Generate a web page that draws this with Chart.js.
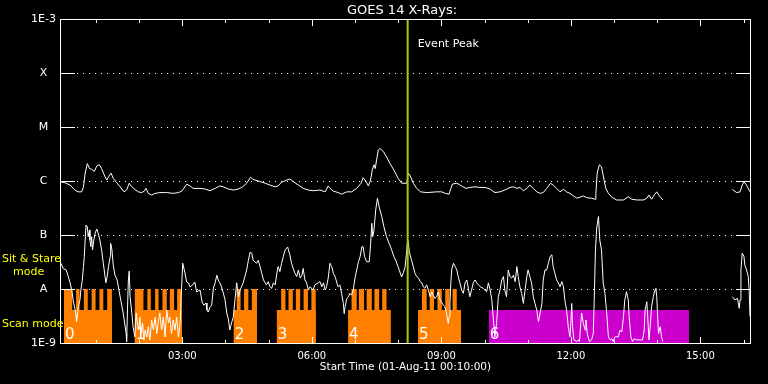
<!DOCTYPE html>
<html>
<head>
<meta charset="utf-8">
<script src="https://cdn.jsdelivr.net/npm/chart.js@4.4.1/dist/chart.umd.min.js"></script>
<style>
  html, body { margin: 0; padding: 0; background: #000; }
  canvas { display: block; }
</style>
</head>
<body>
<canvas id="chart" width="768" height="384"></canvas>
<script>
// GOES 14 X-ray flux (W/m^2), time in hours of 01-Aug-11
const longChannel = [
  [0.19, 9.6e-7], [0.28, 9.3e-7], [0.40, 8.4e-7], [0.51, 6.8e-7], [0.59, 6.3e-7], [0.67, 6.3e-7],
  [0.71, 7.8e-7], [0.75, 1.4e-6], [0.80, 2.1e-6], [0.85, 1.7e-6], [0.90, 1.65e-6], [0.96, 1.5e-6],
  [1.02, 1.9e-6], [1.08, 2.0e-6], [1.13, 1.7e-6], [1.19, 1.3e-6], [1.25, 1.04e-6], [1.29, 1.2e-6],
  [1.35, 1.4e-6], [1.40, 1.12e-6], [1.48, 9.3e-7], [1.56, 7.8e-7], [1.65, 6.3e-7], [1.71, 6.8e-7],
  [1.77, 9.1e-7], [1.83, 7.8e-7], [1.90, 7.0e-7], [1.98, 6.3e-7], [2.06, 6.1e-7], [2.12, 6.5e-7],
  [2.16, 7.3e-7], [2.21, 5.9e-7], [2.29, 5.5e-7], [2.37, 5.9e-7], [2.48, 6.1e-7], [2.64, 6.1e-7],
  [2.79, 5.9e-7], [2.91, 6.1e-7], [2.99, 6.5e-7], [3.06, 7.8e-7], [3.10, 8.7e-7], [3.18, 8.1e-7],
  [3.25, 7.3e-7], [3.41, 7.3e-7], [3.53, 7.1e-7], [3.64, 6.6e-7], [3.76, 7.3e-7], [3.87, 8.1e-7],
  [3.95, 7.8e-7], [4.07, 7.1e-7], [4.18, 6.8e-7], [4.27, 7.0e-7], [4.38, 7.6e-7], [4.49, 9.1e-7],
  [4.58, 1.17e-6], [4.64, 1.07e-6], [4.76, 1.0e-6], [4.92, 9.1e-7], [5.03, 8.4e-7], [5.15, 7.8e-7],
  [5.22, 8.1e-7], [5.30, 9.5e-7], [5.42, 1.04e-6], [5.49, 1.09e-6], [5.57, 9.7e-7], [5.69, 8.4e-7],
  [5.80, 7.3e-7], [5.92, 6.8e-7], [6.03, 6.6e-7], [6.19, 6.8e-7], [6.31, 6.3e-7], [6.38, 8.1e-7],
  [6.42, 7.3e-7], [6.50, 6.5e-7], [6.61, 6.1e-7], [6.69, 5.7e-7], [6.81, 6.3e-7], [6.92, 6.3e-7],
  [7.04, 7.3e-7], [7.14, 9.1e-7], [7.19, 1.15e-6], [7.26, 9.7e-7], [7.31, 8.1e-7], [7.36, 1.04e-6],
  [7.40, 1.6e-6], [7.44, 2.0e-6], [7.47, 1.7e-6], [7.50, 2.45e-6], [7.54, 3.75e-6], [7.58, 4.0e-6],
  [7.66, 3.5e-6], [7.73, 2.8e-6], [7.81, 2.1e-6], [7.90, 1.6e-6], [8.00, 1.12e-6], [8.08, 9.1e-7],
  [8.20, 9.1e-7], [8.23, 1.4e-6], [8.27, 1.29e-6], [8.35, 9.1e-7], [8.43, 7.3e-7], [8.52, 6.3e-7],
  [8.66, 6.1e-7], [8.89, 6.3e-7], [9.01, 6.3e-7], [9.09, 5.9e-7], [9.18, 5.7e-7], [9.22, 7.3e-7],
  [9.26, 8.8e-7], [9.36, 9.1e-7], [9.47, 8.1e-7], [9.57, 7.3e-7], [9.66, 7.6e-7], [9.78, 7.8e-7],
  [9.89, 7.6e-7], [10.01, 7.6e-7], [10.13, 7.1e-7], [10.24, 6.1e-7], [10.36, 6.3e-7], [10.47, 6.8e-7],
  [10.59, 7.6e-7], [10.67, 7.8e-7], [10.75, 7.3e-7], [10.82, 7.6e-7], [10.90, 6.6e-7], [10.98, 7.3e-7],
  [11.05, 8.4e-7], [11.13, 7.3e-7], [11.21, 6.3e-7], [11.29, 5.9e-7], [11.36, 6.1e-7], [11.44, 7.3e-7],
  [11.53, 9.1e-7], [11.59, 8.4e-7], [11.67, 7.3e-7], [11.75, 6.3e-7], [11.83, 7.0e-7], [11.90, 6.3e-7],
  [11.98, 5.9e-7], [12.06, 5.3e-7], [12.14, 4.8e-7], [12.21, 5.0e-7], [12.29, 5.3e-7], [12.37, 4.9e-7],
  [12.48, 4.8e-7], [12.56, 4.6e-7], [12.58, 5.9e-7], [12.61, 1.4e-6], [12.66, 2.0e-6], [12.71, 1.84e-6],
  [12.77, 1.04e-6], [12.81, 7.3e-7], [12.87, 5.9e-7], [12.95, 5.0e-7], [13.06, 4.45e-7], [13.22, 4.45e-7],
  [13.33, 5.1e-7], [13.41, 4.6e-7], [13.53, 4.45e-7], [13.68, 4.45e-7], [13.76, 4.8e-7], [13.81, 5.5e-7],
  [13.87, 4.6e-7], [13.93, 5.5e-7], [13.99, 6.3e-7], [14.05, 5.3e-7], [14.13, 4.45e-7], [15.00, null],
  [15.74, 7.0e-7], [15.84, 6.1e-7], [15.92, 6.3e-7], [15.97, 8.4e-7], [16.01, 9.7e-7], [16.07, 8.4e-7],
  [16.15, 6.3e-7]
];

const shortChannel = [
  [0.19, 3.0e-8], [0.24, 2.4e-8], [0.31, 2.25e-8], [0.36, 1.7e-8], [0.40, 1.3e-8], [0.44, 9.6e-9],
  [0.47, 6.3e-9], [0.51, 4.4e-9], [0.54, 3.1e-9], [0.55, 2.5e-9], [0.57, 3.3e-9], [0.59, 4.7e-9],
  [0.63, 6.3e-9], [0.65, 9.6e-9], [0.68, 1.37e-8], [0.71, 2.6e-8], [0.73, 4.0e-8], [0.75, 8.1e-8],
  [0.77, 1.53e-7], [0.80, 1.42e-7], [0.82, 9.3e-8], [0.85, 1.24e-7], [0.86, 8.1e-8], [0.88, 6.1e-8],
  [0.90, 9.3e-8], [0.92, 5.3e-8], [0.95, 8.1e-8], [0.98, 1.08e-7], [1.02, 1.29e-7], [1.05, 1.08e-7],
  [1.09, 8.1e-8], [1.13, 5.3e-8], [1.17, 3.0e-8], [1.23, 1.3e-8], [1.26, 1.7e-8], [1.29, 2.6e-8],
  [1.33, 4.0e-8], [1.34, 7.0e-8], [1.37, 5.3e-8], [1.40, 2.8e-8], [1.44, 1.8e-8], [1.49, 1.47e-8],
  [1.56, 7.2e-9], [1.63, 3.6e-9], [1.70, 1.5e-9], [1.71, 1.06e-9], [1.73, 4.1e-9], [1.75, 1.47e-8],
  [1.77, 2.15e-8], [1.79, 7.2e-9], [1.83, 3.6e-9], [1.86, 2.0e-9], [1.90, 1.3e-9], [1.93, 3.6e-9],
  [1.96, 2.35e-9], [1.99, 1.74e-9], [2.02, 3.0e-9], [2.05, 1.5e-9], [2.08, 2.35e-9], [2.11, 1.14e-9],
  [2.14, 1.74e-9], [2.18, 1.29e-9], [2.21, 2.0e-9], [2.25, 1.14e-9], [2.29, 2.67e-9], [2.33, 1.74e-9],
  [2.37, 3.0e-9], [2.41, 1.5e-9], [2.44, 2.35e-9], [2.48, 3.6e-9], [2.52, 1.74e-9], [2.56, 3.0e-9],
  [2.60, 1.29e-9], [2.64, 4.1e-9], [2.68, 2.35e-9], [2.71, 3.0e-9], [2.75, 1.5e-9], [2.79, 2.67e-9],
  [2.83, 1.74e-9], [2.87, 3.0e-9], [2.91, 1.29e-9], [2.95, 2.35e-9], [2.97, 6.3e-9], [3.01, 3.0e-8],
  [3.06, 2.0e-8], [3.10, 1.35e-8], [3.14, 1.3e-8], [3.18, 1.09e-8], [3.24, 1.19e-8], [3.29, 1.35e-8],
  [3.33, 8.8e-9], [3.41, 9.6e-9], [3.46, 5.7e-9], [3.50, 5.0e-9], [3.55, 5.5e-9], [3.57, 4.1e-9],
  [3.60, 3.75e-9], [3.64, 4.6e-9], [3.68, 5.0e-9], [3.72, 1.04e-8], [3.76, 1.3e-8], [3.80, 1.8e-8],
  [3.83, 1.47e-8], [3.87, 1.3e-8], [3.91, 1.09e-8], [3.95, 8.4e-9], [3.99, 6.3e-9], [4.03, 3.6e-9],
  [4.07, 2.67e-9], [4.10, 1.74e-9], [4.14, 2.35e-9], [4.18, 3.0e-9], [4.22, 6.3e-9], [4.26, 1.3e-8],
  [4.30, 7.1e-9], [4.34, 9.6e-9], [4.41, 1.3e-8], [4.49, 2.25e-8], [4.53, 3.4e-8], [4.57, 4.8e-8],
  [4.61, 4.6e-8], [4.64, 3.4e-8], [4.72, 3.0e-8], [4.76, 3.4e-8], [4.80, 2.6e-8], [4.84, 1.95e-8],
  [4.88, 1.47e-8], [4.92, 1.3e-8], [4.95, 1.19e-8], [4.99, 1.37e-8], [5.03, 1.1e-8], [5.07, 1.03e-8],
  [5.11, 1.3e-8], [5.15, 1.19e-8], [5.19, 1.95e-8], [5.22, 2.6e-8], [5.26, 2.1e-8], [5.30, 3.0e-8],
  [5.34, 4.0e-8], [5.38, 5.3e-8], [5.44, 6.0e-8], [5.49, 4.3e-8], [5.53, 3.0e-8], [5.57, 2.4e-8],
  [5.61, 1.95e-8], [5.65, 1.7e-8], [5.69, 2.25e-8], [5.73, 1.6e-8], [5.77, 1.8e-8], [5.80, 2.4e-8],
  [5.84, 1.47e-8], [5.88, 1.3e-8], [5.92, 9.6e-9], [5.96, 1.1e-8], [6.03, 9.6e-9], [6.07, 1.19e-8],
  [6.15, 1.3e-8], [6.19, 1.37e-8], [6.23, 1.1e-8], [6.27, 1.3e-8], [6.31, 9.6e-9], [6.34, 1.1e-8],
  [6.38, 1.6e-8], [6.42, 3.0e-8], [6.46, 2.6e-8], [6.50, 1.95e-8], [6.54, 1.7e-8], [6.58, 1.3e-8],
  [6.61, 1.1e-8], [6.65, 1.19e-8], [6.69, 8.3e-9], [6.73, 5.4e-9], [6.75, 3.5e-9], [6.77, 4.7e-9],
  [6.81, 6.7e-9], [6.85, 7.2e-9], [6.88, 8.3e-9], [6.92, 7.7e-9], [6.96, 9.6e-9], [7.00, 1.6e-8],
  [7.04, 2.25e-8], [7.08, 3.2e-8], [7.12, 4.0e-8], [7.16, 6.1e-8], [7.19, 6.0e-8], [7.22, 4.0e-8],
  [7.27, 3.2e-8], [7.33, 3.2e-8], [7.36, 6.5e-8], [7.39, 1.65e-7], [7.41, 9.3e-8], [7.44, 1.24e-7],
  [7.48, 2.9e-7], [7.52, 4.8e-7], [7.56, 3.3e-7], [7.62, 2.2e-7], [7.67, 1.42e-7], [7.73, 9.3e-8],
  [7.79, 7.0e-8], [7.85, 5.3e-8], [7.90, 4.0e-8], [7.95, 3.3e-8], [8.00, 2.55e-8], [8.08, 1.67e-8],
  [8.12, 2.0e-8], [8.16, 2.55e-8], [8.20, 5.3e-8], [8.22, 8.1e-8], [8.23, 7.7e-8], [8.26, 4.8e-8],
  [8.31, 3.4e-8], [8.35, 2.6e-8], [8.39, 1.95e-8], [8.43, 1.7e-8], [8.47, 1.6e-8], [8.51, 1.37e-8],
  [8.55, 1.3e-8], [8.58, 1.1e-8], [8.62, 1.03e-8], [8.66, 1.19e-8], [8.70, 9.6e-9], [8.74, 7.2e-9],
  [8.78, 8.9e-9], [8.81, 7.7e-9], [8.85, 6.7e-9], [8.89, 7.2e-9], [8.93, 8.9e-9], [8.97, 6.3e-9],
  [9.05, 5.0e-9], [9.08, 4.7e-9], [9.12, 3.6e-9], [9.16, 2.3e-9], [9.18, 3.1e-9], [9.20, 5.4e-9],
  [9.22, 1.3e-8], [9.24, 2.25e-8], [9.28, 3.0e-8], [9.32, 2.6e-8], [9.36, 2.25e-8], [9.39, 1.7e-8],
  [9.43, 1.3e-8], [9.47, 9.6e-9], [9.51, 8.3e-9], [9.55, 1.3e-8], [9.59, 1.47e-8], [9.62, 1.1e-8],
  [9.66, 7.2e-9], [9.70, 9.6e-9], [9.74, 1.3e-8], [9.78, 1.47e-8], [9.82, 1.3e-8], [9.90, 1.1e-8],
  [9.97, 1.03e-8], [10.05, 8.9e-9], [10.09, 1.3e-8], [10.13, 9.6e-9], [10.17, 6.3e-9], [10.20, 3.1e-9],
  [10.24, 1.3e-9], [10.28, 2.3e-9], [10.32, 7.2e-9], [10.36, 9.6e-9], [10.40, 1.47e-8], [10.44, 1.7e-8],
  [10.47, 9.6e-9], [10.51, 7.2e-9], [10.55, 2.25e-8], [10.59, 1.7e-8], [10.63, 1.6e-8], [10.67, 1.8e-8],
  [10.71, 1.37e-8], [10.75, 2.6e-8], [10.78, 1.7e-8], [10.82, 1.1e-8], [10.86, 8.3e-9], [10.90, 5.4e-9],
  [10.94, 9.6e-9], [10.98, 1.7e-8], [11.01, 2.25e-8], [11.05, 1.7e-8], [11.09, 1.3e-8], [11.13, 7.2e-9],
  [11.17, 5.4e-9], [11.21, 4.1e-9], [11.25, 2.5e-9], [11.29, 3.6e-9], [11.33, 5.4e-9], [11.36, 1.47e-8],
  [11.40, 2.25e-8], [11.44, 2.25e-8], [11.48, 3.0e-8], [11.52, 4.0e-8], [11.56, 4.3e-8], [11.59, 2.6e-8],
  [11.63, 1.95e-8], [11.67, 1.47e-8], [11.71, 1.3e-8], [11.75, 1.1e-8], [11.79, 1.37e-8], [11.83, 1.1e-8],
  [11.86, 6.3e-9], [11.90, 4.1e-9], [11.94, 2.0e-9], [11.98, 1.3e-9], [12.00, 2.3e-9], [12.02, 5.4e-9],
  [12.04, 2.0e-9], [12.07, 1.14e-9], [12.14, 1.06e-9], [12.17, 1.14e-9], [12.20, 1.06e-9], [12.23, 2.3e-9],
  [12.25, 3.6e-9], [12.29, 2.3e-9], [12.33, 1.74e-9], [12.35, 2.67e-9], [12.38, 1.5e-9], [12.43, 1.06e-9],
  [12.48, 1.14e-9], [12.52, 1.5e-9], [12.54, 5.4e-9], [12.57, 5.3e-8], [12.60, 1.35e-7], [12.64, 2.2e-7],
  [12.67, 8.1e-8], [12.71, 5.3e-8], [12.75, 1.3e-8], [12.79, 8.3e-9], [12.83, 3.6e-9], [12.87, 1.3e-9],
  [12.91, 1.14e-9], [12.95, 1.2e-9], [12.98, 1.06e-9], [13.02, 1.3e-9], [13.10, 1.3e-9], [13.14, 1.74e-9],
  [13.18, 1.6e-9], [13.22, 3.1e-9], [13.25, 6.3e-9], [13.29, 8.9e-9], [13.33, 6.3e-9], [13.35, 3.1e-9],
  [13.39, 1.3e-9], [13.43, 1.06e-9], [13.47, 1.2e-9], [13.53, 1.14e-9], [13.60, 1.14e-9], [13.66, 1.14e-9],
  [13.70, 1.74e-9], [13.72, 4.1e-9], [13.76, 5.8e-9], [13.78, 3.1e-9], [13.81, 1.14e-9], [13.85, 2.67e-9],
  [13.87, 4.7e-9], [13.91, 7.2e-9], [13.95, 9.6e-9], [13.97, 1.03e-8], [13.99, 7.2e-9], [14.01, 3.1e-9],
  [14.03, 1.5e-9], [14.07, 2.0e-9], [14.10, 1.3e-9], [14.13, 1.06e-9], [15.00, null], [15.74, 7.2e-9],
  [15.80, 6.3e-9], [15.86, 6.7e-9], [15.90, 4.4e-9], [15.92, 6.3e-9], [15.94, 2.25e-8], [15.97, 4.6e-8],
  [16.01, 4.0e-8], [16.03, 2.8e-8], [16.07, 2.25e-8], [16.11, 1.7e-8], [16.13, 9.6e-9], [16.15, 3.1e-9]
];

const eventPeak = 8.22;
const xTicks = [3, 6, 9, 12, 15];
const xMinorTicks = [1, 2, 4, 5, 7, 8, 10, 11, 13, 14, 16];
const yTicks = [1e-9, 1e-8, 1e-7, 1e-6, 1e-5, 1e-4, 1e-3];
const yTickLabels = ["1E-9", "A", "B", "C", "M", "X", "1E-3"];

// observing modes: scan blocks with sit & stare slots inside, then one raster
const scanBlocks = [[0.26, 1.37], [1.90, 2.99], [4.19, 4.73], [5.19, 6.09], [6.84, 7.83], [8.46, 9.46]];
const stareSlots = [
  [0.26, 0.45], [0.54, 0.62], [0.72, 0.81], [0.90, 0.99], [1.08, 1.17], [1.26, 1.37],
  [1.90, 2.10], [2.19, 2.27], [2.37, 2.45], [2.54, 2.64], [2.71, 2.81], [2.88, 2.99],
  [4.26, 4.35], [4.43, 4.53], [4.61, 4.73],
  [5.29, 5.39], [5.46, 5.56], [5.63, 5.73], [5.81, 5.91], [5.99, 6.09],
  [6.92, 7.04], [7.09, 7.21], [7.27, 7.39], [7.45, 7.56], [7.63, 7.73],
  [8.55, 8.66], [8.73, 8.83], [8.91, 9.01], [9.09, 9.19], [9.26, 9.36]
];
const rasterBlocks = [[10.10, 14.74]];
const blockLabels = ["0", "1", "2", "3", "4", "5", "6"];

const STARE_LEVEL = 1e-8;
const SCAN_LEVEL = 4.1e-9;
const FLOOR = 1e-9;

const ORANGE = "rgb(255, 128, 0)";
const MAGENTA = "rgb(204, 0, 204)";
const YELLOW = "rgb(255, 255, 0)";
const GREEN = "rgb(160, 208, 0)";
const FONT = "DejaVu Sans";

function toPoints(rows) {
  return rows.map(([x, y]) => ({ x, y }));
}

function boxes(intervals, level) {
  const pts = [];
  intervals.forEach(([a, b]) => {
    pts.push({ x: a, y: FLOOR }, { x: a, y: level }, { x: b, y: level }, { x: b, y: FLOOR });
  });
  return pts;
}

const framePlugin = {
  id: "goesFrame",
  beforeDatasetsDraw(chart) {
    const { ctx, chartArea: a, scales: { y } } = chart;
    ctx.save();
    ctx.fillStyle = "#fff";
    yTicks.slice(1, -1).forEach((v) => {
      const py = Math.round(y.getPixelForValue(v));
      for (let px = a.left + 16; px < a.right - 14; px += 6) ctx.fillRect(px, py, 1, 1);
    });
    ctx.restore();
  },
  afterDatasetsDraw(chart) {
    const { ctx, chartArea: a, scales: { x, y } } = chart;
    const top = a.top, bottom = a.bottom, left = a.left - 1, right = a.right;
    ctx.save();
    ctx.fillStyle = "#fff";
    // frame
    ctx.fillRect(left, top, right - left + 1, 1);
    ctx.fillRect(left, bottom, right - left + 1, 1);
    ctx.fillRect(left, top, 1, bottom - top + 1);
    ctx.fillRect(right, top, 1, bottom - top + 1);
    // y ticks
    yTicks.slice(1, -1).forEach((v) => {
      const py = Math.round(y.getPixelForValue(v));
      ctx.fillRect(left, py, 15, 1);
      ctx.fillRect(right - 14, py, 15, 1);
    });
    // x ticks
    xTicks.forEach((v) => {
      const px = Math.round(x.getPixelForValue(v));
      ctx.fillRect(px, top, 1, 7);
      ctx.fillRect(px, bottom - 6, 1, 7);
    });
    xMinorTicks.forEach((v) => {
      const px = Math.round(x.getPixelForValue(v));
      ctx.fillRect(px, top, 1, 4);
      ctx.fillRect(px, bottom - 3, 1, 4);
    });

    // texts
    ctx.textBaseline = "alphabetic";
    ctx.fillStyle = "#fff";
    ctx.font = `13px "${FONT}"`;
    ctx.textAlign = "center";
    ctx.fillText("GOES 14 X-Rays:", 402, 14);

    ctx.font = `11px "${FONT}"`;
    ctx.textAlign = "left";
    ctx.fillText("Event Peak", x.getPixelForValue(eventPeak) + 10, 47);

    ctx.fillStyle = YELLOW;
    ctx.fillText("Sit & Stare", 2, 262);
    ctx.fillText("mode", 13, 275);
    ctx.fillText("Scan mode", 2, 327);

    ctx.fillStyle = "#fff";
    ctx.font = `15px "${FONT}"`;
    scanBlocks.concat(rasterBlocks).forEach(([start], i) => {
      ctx.fillText(blockLabels[i], x.getPixelForValue(start) + 1, y.getPixelForValue(FLOOR) - 4);
    });
    ctx.restore();
  }
};

new Chart(document.getElementById("chart"), {
  type: "line",
  data: {
    datasets: [
      {
        label: "Event Peak",
        data: [{ x: eventPeak, y: FLOOR }, { x: eventPeak, y: 1e-3 }],
        borderColor: GREEN,
        borderWidth: 2,
        order: 0
      },
      {
        label: "1-8 A",
        data: toPoints(longChannel),
        borderColor: "#fff",
        borderWidth: 1,
        order: 1
      },
      {
        label: "0.5-4 A",
        data: toPoints(shortChannel),
        borderColor: "#fff",
        borderWidth: 1,
        order: 2
      },
      {
        label: "Sit & Stare",
        data: boxes(stareSlots, STARE_LEVEL),
        borderWidth: 0,
        backgroundColor: ORANGE,
        fill: "start",
        order: 3
      },
      {
        label: "Scan",
        data: boxes(scanBlocks, SCAN_LEVEL),
        borderWidth: 0,
        backgroundColor: ORANGE,
        fill: "start",
        order: 4
      },
      {
        label: "Raster",
        data: boxes(rasterBlocks, SCAN_LEVEL),
        borderWidth: 0,
        backgroundColor: MAGENTA,
        fill: "start",
        order: 5
      }
    ]
  },
  options: {
    responsive: false,
    animation: false,
    spanGaps: false,
    elements: { point: { radius: 0 }, line: { tension: 0 } },
    layout: { padding: { top: 19, right: 18, left: 0, bottom: 0 } },
    plugins: {
      legend: { display: false },
      tooltip: { enabled: false },
      title: { display: false }
    },
    scales: {
      x: {
        type: "linear",
        min: 0.19,
        max: 16.15,
        afterFit(scale) { scale.height = 41; },
        afterBuildTicks(scale) { scale.ticks = xTicks.map((v) => ({ value: v })); },
        grid: { display: false, drawTicks: false },
        border: { display: false },
        ticks: {
          color: "#fff",
          font: { family: FONT, size: 10 },
          padding: 7,
          maxRotation: 0,
          autoSkip: false,
          callback: (v) => String(v).padStart(2, "0") + ":00"
        },
        title: {
          display: true,
          text: "Start Time (01-Aug-11 00:10:00)",
          color: "#fff",
          font: { family: FONT, size: 10.5 },
          padding: { top: 0, bottom: 10 }
        }
      },
      y: {
        type: "logarithmic",
        min: 1e-9,
        max: 1e-3,
        afterFit(scale) { scale.width = 61; },
        afterBuildTicks(scale) { scale.ticks = yTicks.map((v) => ({ value: v })); },
        grid: { display: false, drawTicks: false },
        border: { display: false },
        ticks: {
          color: "#fff",
          font: { family: FONT, size: 11 },
          padding: 5,
          crossAlign: "center",
          autoSkip: false,
          callback: (v, i) => yTickLabels[i]
        }
      }
    }
  },
  plugins: [framePlugin]
});
</script>
</body>
</html>
